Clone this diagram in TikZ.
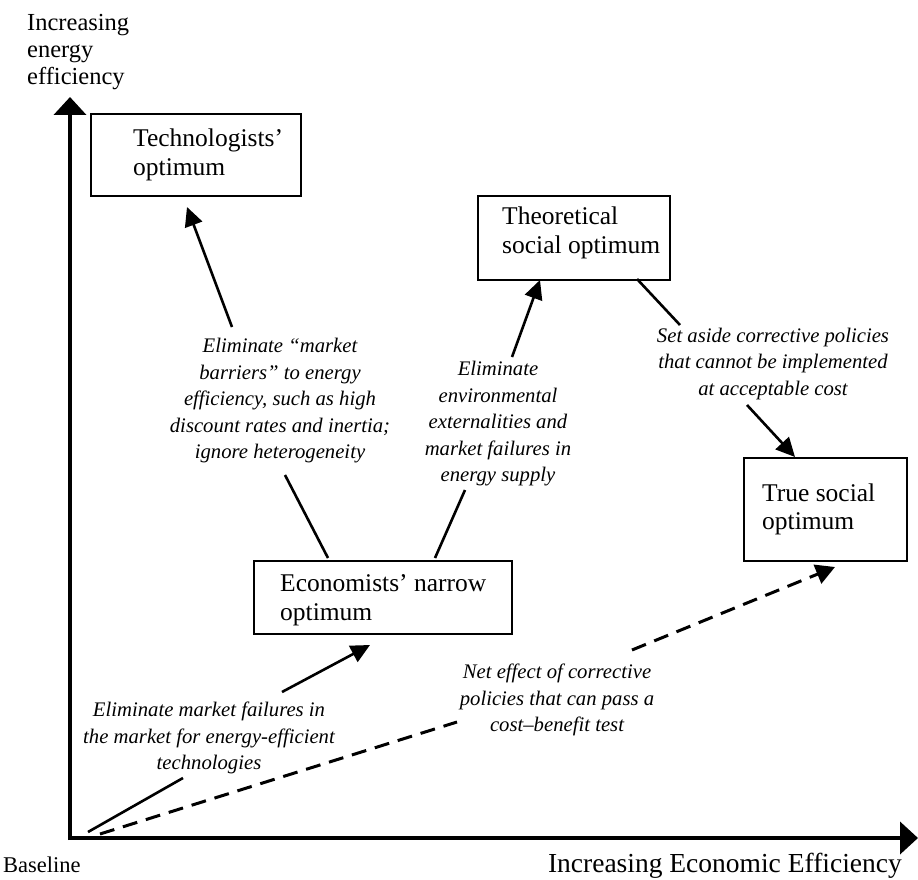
\documentclass[tikz,border=0pt]{standalone}
\usepackage{fontspec}
\setmainfont{Liberation Serif}
\usetikzlibrary{arrows.meta, calc}
\tikzset{
  axis line/.style={
    line width=4pt,
    -{Triangle[length=18pt,width=32pt]}
  },
  opt box/.style={
    draw, line width=1.8pt, inner sep=0pt
  },
  box text/.style={
    font=\fontsize{25.5}{28.5}\selectfont,
    align=left, anchor=west, inner sep=0pt
  },
  step note/.style={
    font=\fontsize{20.7}{26.5}\selectfont\itshape,
    align=center, inner sep=0pt
  },
  axis text/.style={
    font=\fontsize{24.5}{27}\selectfont,
    align=left, inner sep=0pt
  },
  link/.style={line width=2.6pt},
  link arrow/.style={link, -{Triangle[length=19pt,width=18pt]}},
  net link/.style={line width=3pt, dash pattern=on 15pt off 9pt},
  net arrow/.style={net link, -{Triangle[length=19pt,width=20pt]}}
}

\begin{document}
\begin{tikzpicture}[x=1pt, y=-1pt]
  \useasboundingbox (0,0) rectangle (918,880);

  % Axes
  \coordinate (O) at (70,838);
  \coordinate (ytip) at (70,97);
  \coordinate (xtip) at (918,838);
  \draw[axis line] (70,840) -- (ytip);
  \draw[axis line] (68,838) -- (xtip);

  % Axis labels
  \node[axis text, anchor=north west] (ylabel) at (27,14) {Increasing\\energy\\efficiency};
  \node[axis text, anchor=base west, font=\fontsize{22.5}{24}\selectfont] (base) at (3,872) {Baseline};
  \node[axis text, anchor=base east, font=\fontsize{27.5}{30}\selectfont] (xlabel) at (902,872) {Increasing Economic Efficiency};

  % Optimum boxes
  \node[opt box, minimum width=210pt, minimum height=82pt, anchor=north west] (techn) at (90,113) {};
  \node[box text] (techn-txt) at ($(techn.west)+(43,0)$) {Technologists'\\optimum};

  \node[opt box, minimum width=192pt, minimum height=84pt, anchor=north west] (theor) at (477,195) {};
  \node[box text] (theor-txt) at ($(theor.west)+(25,-5)$) {Theoretical\\social optimum};

  \node[opt box, minimum width=258pt, minimum height=73pt, anchor=north west] (econ) at (253,560) {};
  \node[box text] (econ-txt) at ($(econ.west)+(27,3)$) {Economists' narrow\\optimum};

  \node[opt box, minimum width=163pt, minimum height=103pt, anchor=north west] (true) at (743,457) {};
  \node[box text] (true-txt) at ($(true.west)+(19,0)$) {True social\\optimum};

  % Step notes
  \node[step note] (barriers) at (280,401) {Eliminate ``market\\barriers'' to energy\\efficiency, such as high\\discount rates and inertia;\\ignore heterogeneity};
  \node[step note] (extern) at (498,424) {Eliminate\\environmental\\externalities and\\market failures in\\energy supply};
  \node[step note] (setaside) at (773,364) {Set aside corrective policies\\that cannot be implemented\\at acceptable cost};
  \node[step note] (neteffect) at (557,700) {Net effect of corrective\\policies that can pass a\\cost--benefit test};
  \node[step note] (failures) at (209,738) {Eliminate market failures in\\the market for energy-efficient\\technologies};

  % Break points of the arrows
  \coordinate (a1) at (328,558);
  \coordinate (a2) at (285,475);
  \coordinate (a3) at (232,327);
  \coordinate (a4) at (187,207);
  \coordinate (b1) at (435,558);
  \coordinate (b2) at (465,490);
  \coordinate (b3) at (512,357);
  \coordinate (b4) at (540,280);
  \coordinate (c1) at (637,279);
  \coordinate (c2) at (680,325);
  \coordinate (c3) at (747,405);
  \coordinate (c4) at (795,457);
  \coordinate (e0) at (88,832);
  \coordinate (e1) at (183,778);
  \coordinate (e2) at (282,692);
  \coordinate (e3) at (370,645);
  \coordinate (d1) at (457,722);
  \coordinate (d2) at (632,650);
  \coordinate (d3) at (835,567);

  % Arrows
  \draw[link] (a1) -- (a2);
  \draw[link arrow] (a3) -- (a4);
  \draw[link] (b1) -- (b2);
  \draw[link arrow] (b3) -- (b4);
  \draw[link] (c1) -- (c2);
  \draw[link arrow] (c3) -- (c4);
  \draw[link] (e0) -- (e1);
  \draw[link arrow] (e2) -- (e3);
  \draw[net link] ([xshift=12pt,yshift=-2pt]e0) -- (d1);
  \draw[net arrow] (d2) -- (d3);
\end{tikzpicture}
\end{document}
